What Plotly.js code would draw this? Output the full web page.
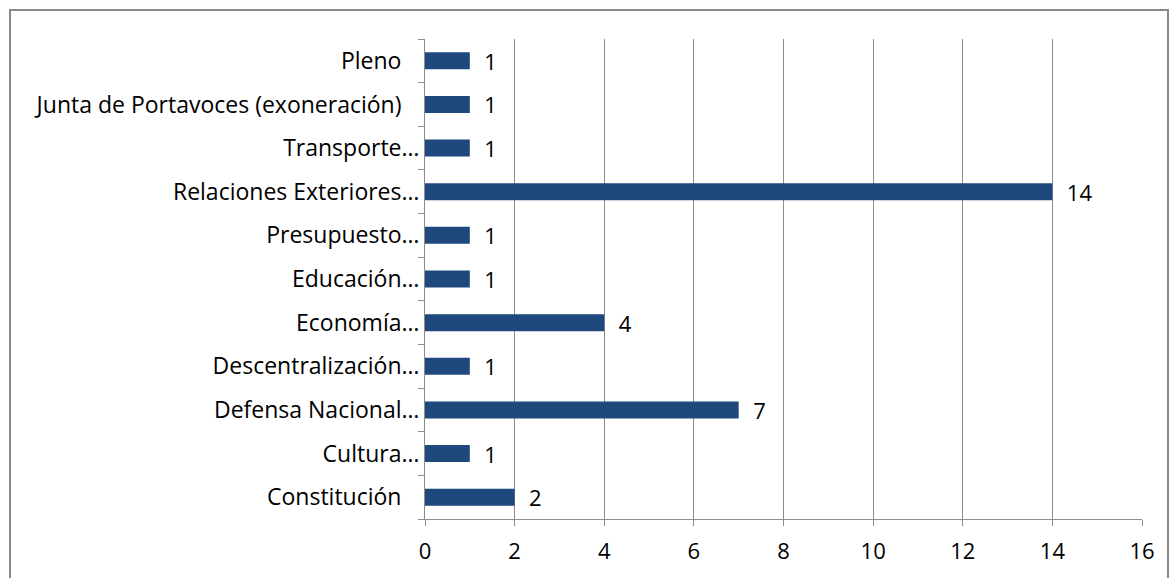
<!DOCTYPE html>
<html>
<head>
<meta charset="utf-8">
<script src="https://cdn.plot.ly/plotly-3.0.1.min.js"></script>
<style>
html,body{margin:0;padding:0;background:#fff;}
#chart{width:1172px;height:578px;position:relative;}
#frame{position:absolute;left:9px;top:9px;width:1160px;height:580px;border:2px solid #8a8a8a;pointer-events:none;box-sizing:border-box;}
</style>
</head>
<body>
<div style="position:relative;width:1172px;height:578px;overflow:hidden;">
<div id="chart"></div>
<div id="frame"></div>
</div>
<script>
const categories = [
  "Constitución\u00a0\u00a0\u00a0",
  "Cultura…",
  "Defensa Nacional…",
  "Descentralización…",
  "Economía…",
  "Educación…",
  "Presupuesto…",
  "Relaciones Exteriores…",
  "Transporte…",
  "Junta de Portavoces (exoneración)\u00a0\u00a0\u00a0",
  "Pleno\u00a0\u00a0\u00a0"
];
const values = [2, 1, 7, 1, 4, 1, 1, 14, 1, 1, 1];
const xTicks = [0, 2, 4, 6, 8, 10, 12, 14, 16];

const font = "'Open Sans', sans-serif";
const fs = 23;
const trace = {
  type: 'bar',
  orientation: 'h',
  y: categories,
  x: values,
  marker: {color: '#1F497D'},
  width: 0.39,
  text: values.map(v => '\u00a0\u00a0' + v),
  textposition: 'outside',
  constraintext: 'none',
  cliponaxis: false,
  textfont: {family: font, size: 22, color: '#000'},
  hoverinfo: 'none'
};
const layout = {
  width: 1172, height: 578,
  margin: {l: 425, r: 30, t: 39, b: 59},
  paper_bgcolor: '#fff', plot_bgcolor: '#fff',
  showlegend: false,
  font: {family: font, size: fs, color: '#000'},
  xaxis: {
    range: [0, 16],
    tickvals: xTicks,
    ticktext: xTicks.map(String),
    showgrid: true, gridcolor: '#8c8c8c', gridwidth: 1,
    showline: true, linecolor: '#8c8c8c', linewidth: 1,
    ticks: 'outside', ticklen: 6, tickcolor: '#8c8c8c',
    ticklabelstandoff: 7,
    zeroline: false,
    tickfont: {family: font, size: 22, color: '#000'},
    fixedrange: true
  },
  yaxis: {
    type: 'category',
    categoryorder: 'array', categoryarray: categories,
    showline: true, linecolor: '#8c8c8c', linewidth: 1,
    ticks: 'outside', ticklen: 6, tickcolor: '#8c8c8c',
    tickson: 'boundaries',
    showgrid: false,
    tickfont: {family: font, size: fs, color: '#000'},
    fixedrange: true
  }
};
Plotly.newPlot('chart', [trace], layout, {displayModeBar: false, staticPlot: true});
</script>
</body>
</html>
